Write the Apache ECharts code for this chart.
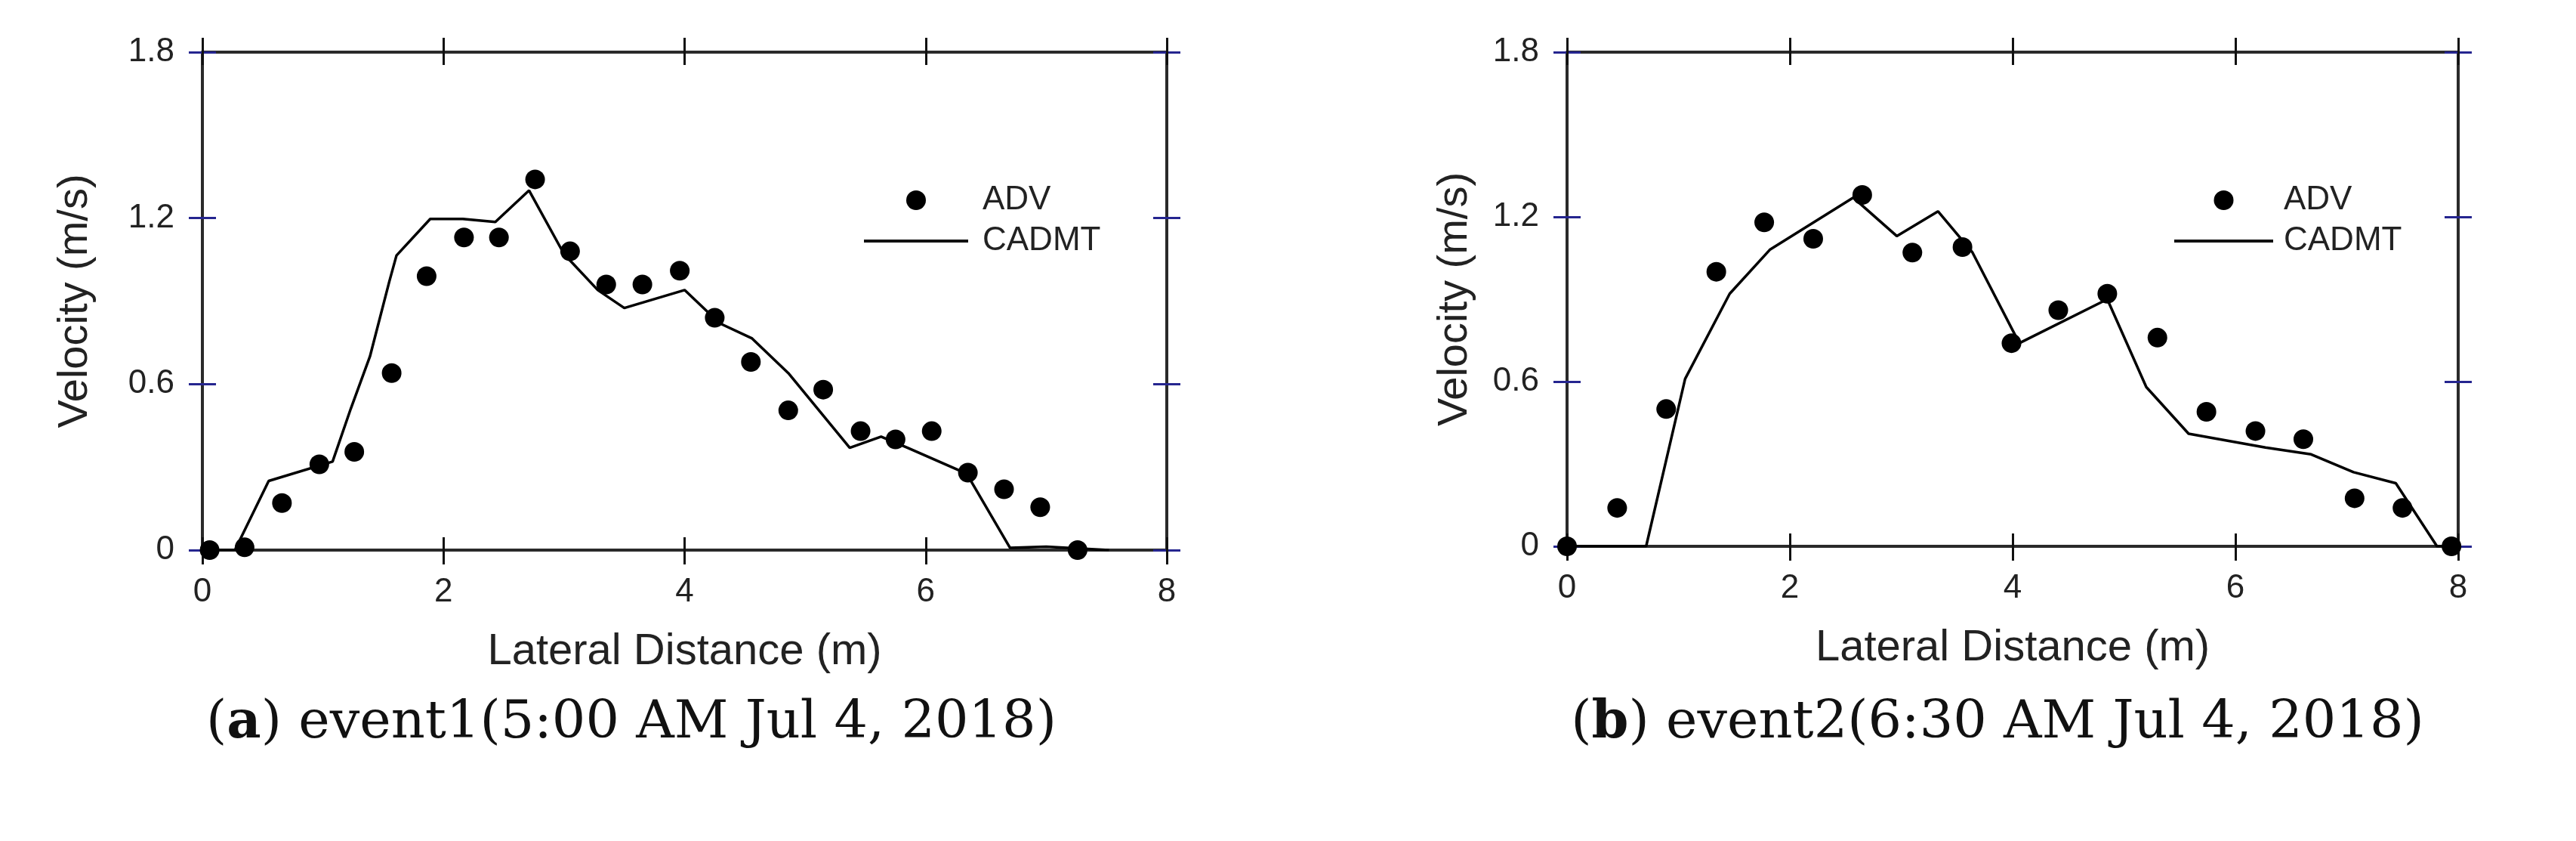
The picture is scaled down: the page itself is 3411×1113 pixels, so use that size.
<!DOCTYPE html>
<html>
<head>
<meta charset="utf-8">
<script src="https://cdn.jsdelivr.net/npm/echarts@6/dist/echarts.min.js"></script>
<style>
html,body{margin:0;padding:0;background:#fff;}
#c{width:3411px;height:1113px;}
</style>
</head>
<body>
<div id="c"></div>
<script>
// ---- data ----
const seriesNames = ['ADV', 'CADMT'];
const xRange = [0, 8];
const xStep = 2;
const yRange = [0, 1.8];
const yStep = 0.6;
const xAxisTitle = 'Lateral Distance (m)';
const yAxisTitle = 'Velocity (m/s)';
const captionA = ['a', ' event1(5:00 AM Jul 4, 2018)'];
const captionB = ['b', ' event2(6:30 AM Jul 4, 2018)'];

// (a) event1
const adv1X = [0.06, 0.35, 0.66, 0.97, 1.26, 1.57, 1.86, 2.17, 2.46, 2.76, 3.05, 3.35, 3.65, 3.96, 4.25, 4.55, 4.86, 5.15, 5.46, 5.75, 6.05, 6.35, 6.65, 6.95, 7.26];
const adv1Y = [0, 0.01, 0.17, 0.31, 0.355, 0.64, 0.99, 1.13, 1.13, 1.34, 1.08, 0.96, 0.96, 1.01, 0.84, 0.68, 0.505, 0.58, 0.43, 0.40, 0.43, 0.28, 0.22, 0.155, 0];
const cadmt1X = [0, 0.27, 0.55, 1.08, 1.23, 1.39, 1.55, 1.61, 1.89, 2.16, 2.43, 2.71, 3.0, 3.28, 3.5, 4.0, 4.29, 4.56, 4.86, 5.37, 5.63, 5.85, 6.34, 6.7, 7.0, 7.52];
const cadmt1Y = [0, 0, 0.25, 0.32, 0.51, 0.70, 0.97, 1.065, 1.197, 1.197, 1.186, 1.30, 1.07, 0.94, 0.875, 0.94, 0.82, 0.765, 0.64, 0.37, 0.41, 0.37, 0.276, 0.008, 0.012, 0];

// (b) event2
const adv2X = [0, 0.45, 0.89, 1.34, 1.77, 2.21, 2.65, 3.10, 3.55, 3.99, 4.41, 4.85, 5.30, 5.74, 6.18, 6.61, 7.07, 7.50, 7.94];
const adv2Y = [0, 0.14, 0.50, 1.0, 1.18, 1.12, 1.28, 1.07, 1.09, 0.74, 0.86, 0.92, 0.76, 0.49, 0.42, 0.39, 0.175, 0.14, 0];
const cadmt2X = [0, 0.71, 1.06, 1.46, 1.82, 2.57, 2.96, 3.33, 3.64, 4.06, 4.85, 5.2, 5.58, 6.27, 6.68, 7.06, 7.44, 7.81, 8.0];
const cadmt2Y = [0, 0, 0.61, 0.92, 1.08, 1.27, 1.13, 1.22, 1.07, 0.74, 0.90, 0.58, 0.41, 0.36, 0.335, 0.27, 0.23, 0, 0];

// ---- styling / layout ----
const SANS = "'Liberation Sans', Arial, sans-serif";
const SERIF = "'DejaVu Serif', serif";
const AXIS_COLOR = '#2a2a2a';
const BLUE = '#25258f';

const panels = [
  {grid: {left: 268, top: 69, width: 1277, height: 659}, yNameGap: 140,
   legendLeft: 1142, legendIconW: 138, legendTextPad: 14,
   advX: adv1X, advY: adv1Y, lineX: cadmt1X, lineY: cadmt1Y,
   caption: captionA, captionX: 836},
  {grid: {left: 2075, top: 69, width: 1180, height: 654}, yNameGap: 120,
   legendLeft: 2877, legendIconW: 131, legendTextPad: 9,
   advX: adv2X, advY: adv2Y, lineX: cadmt2X, lineY: cadmt2Y,
   caption: captionB, captionX: 2645}
];

function pairs(xs, ys) { return xs.map((x, i) => [x, ys[i]]); }

const grids = [], xAxes = [], yAxes = [], series = [], legends = [], graphics = [];

panels.forEach((p, gi) => {
  grids.push(Object.assign({containLabel: false}, p.grid));
  const xBase = {gridIndex: gi, type: 'value', min: xRange[0], max: xRange[1], interval: xStep,
    splitLine: {show: false}, axisLabel: {show: false}};
  const yBase = {gridIndex: gi, type: 'value', min: yRange[0], max: yRange[1], interval: yStep,
    splitLine: {show: false}, axisLabel: {show: false}};
  const line = {show: true, onZero: false, lineStyle: {color: AXIS_COLOR, width: 4}};
  const noLine = {show: false, onZero: false};
  const xTickOut = {show: true, inside: false, length: 19, lineStyle: {color: '#111', width: 3}};
  const xTickIn = {show: true, inside: true, length: 17, lineStyle: {color: '#111', width: 3}};
  const yTickOut = {show: true, inside: false, length: 18, lineStyle: {color: BLUE, width: 3}};
  const yTickIn = {show: true, inside: true, length: 18, lineStyle: {color: BLUE, width: 3}};

  const xMainIndex = xAxes.length;
  xAxes.push(Object.assign({}, xBase, {
    position: 'bottom', axisLine: line, axisTick: xTickOut,
    axisLabel: {show: true, margin: 34, fontSize: 44, color: '#222', fontFamily: SANS},
    name: xAxisTitle, nameLocation: 'middle', nameGap: 106,
    nameTextStyle: {fontSize: 58, color: '#222', fontFamily: SANS}
  }));
  xAxes.push(Object.assign({}, xBase, {position: 'bottom', axisLine: noLine, axisTick: xTickIn}));
  xAxes.push(Object.assign({}, xBase, {position: 'top', axisLine: line, axisTick: xTickOut}));
  xAxes.push(Object.assign({}, xBase, {position: 'top', axisLine: noLine, axisTick: xTickIn}));

  const yMainIndex = yAxes.length;
  yAxes.push(Object.assign({}, yBase, {
    position: 'left', axisLine: line, axisTick: yTickOut,
    axisLabel: {show: true, margin: 37, fontSize: 44, color: '#222', fontFamily: SANS},
    name: yAxisTitle, nameLocation: 'middle', nameGap: p.yNameGap,
    nameTextStyle: {fontSize: 56, color: '#222', fontFamily: SANS}
  }));
  yAxes.push(Object.assign({}, yBase, {position: 'left', axisLine: noLine, axisTick: yTickIn}));
  yAxes.push(Object.assign({}, yBase, {position: 'right', axisLine: line, axisTick: yTickOut}));
  yAxes.push(Object.assign({}, yBase, {position: 'right', axisLine: noLine, axisTick: yTickIn}));

  series.push({
    name: seriesNames[0], type: 'scatter', xAxisIndex: xMainIndex, yAxisIndex: yMainIndex,
    symbol: 'circle', symbolSize: 26, itemStyle: {color: '#000', opacity: 1}, clip: false,
    data: pairs(p.advX, p.advY), z: 5
  });
  series.push({
    name: seriesNames[1], type: 'line', xAxisIndex: xMainIndex, yAxisIndex: yMainIndex,
    symbol: 'none', showSymbol: false, lineStyle: {color: '#000', width: 3.5},
    itemStyle: {color: '#000'}, data: pairs(p.lineX, p.lineY), z: 4
  });

  legends.push({
    left: p.legendLeft, top: 243, orient: 'vertical', padding: 0,
    itemWidth: p.legendIconW, itemHeight: 26, itemGap: 10,
    selectedMode: false,
    data: [
      {name: seriesNames[0], icon: 'circle'},
      {name: seriesNames[1], itemStyle: {opacity: 0, color: 'rgba(0,0,0,0)', borderWidth: 0},
       lineStyle: {width: 4, color: '#111'}}
    ],
    textStyle: {fontSize: 44, color: '#222', fontFamily: SANS, padding: [0, 0, 0, p.legendTextPad]}
  });

  graphics.push({
    type: 'text', x: p.captionX, y: 958,
    style: {
      text: '({bold|' + p.caption[0] + '})' + p.caption[1],
      font: '70px ' + SERIF, fontSize: 70, fontFamily: SERIF, fill: '#111',
      align: 'center', verticalAlign: 'middle', textAlign: 'center', textVerticalAlign: 'middle',
      rich: {bold: {fontWeight: 'bold', fontSize: 70, fontFamily: SERIF, fill: '#111'}}
    }
  });
});

const chart = echarts.init(document.getElementById('c'), null, {renderer: 'canvas'});
chart.setOption({
  backgroundColor: '#ffffff',
  animation: false,
  grid: grids,
  xAxis: xAxes,
  yAxis: yAxes,
  legend: legends,
  series: series,
  graphic: graphics
});
</script>
</body>
</html>
